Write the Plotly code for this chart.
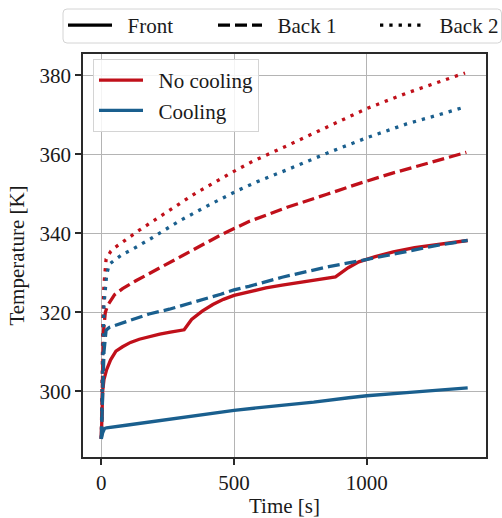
import plotly.graph_objects as go

# ---------------- data ----------------
# No cooling, Front
nc_front_t = [0, 2, 5, 10, 20, 35, 55, 80, 110, 143, 180, 220, 260, 312, 340, 380, 420, 460,
              500, 560, 620, 681, 750, 820, 882, 930, 970, 1032, 1100, 1180, 1260, 1380]
nc_front_y = [288, 295, 300, 303, 305.5, 308, 310.2, 311.3, 312.4, 313.2, 313.9, 314.5, 315, 315.6,
              318.2, 320.3, 322, 323.3, 324.3, 325.3, 326.2, 326.9, 327.6, 328.3, 329, 331.3, 332.8,
              334.1, 335.3, 336.4, 337.2, 338.2]
# No cooling, Back 1
nc_back1_t = [0, 4, 8, 15, 24, 50, 80, 130, 200, 256, 350, 450, 556, 700, 850, 970, 1100, 1250, 1375]
nc_back1_y = [288, 305, 315, 320, 321.8, 324.5, 326, 328, 330.5, 332.6, 336.0, 339.6, 343, 346.6,
              349.9, 352.6, 355.3, 358.1, 360.5]
# No cooling, Back 2
nc_back2_t = [0, 3, 6, 10, 18, 36, 49, 80, 143, 249, 356, 494, 569, 700, 850, 1000, 1150, 1270, 1370]
nc_back2_y = [288, 305, 318, 327, 333.5, 335.5, 336.3, 337.8, 340.8, 345.5, 350.2, 355.5, 358.2,
              362.2, 366.8, 371.6, 375.5, 378.3, 380.6]
# Cooling, Front
c_front_t = [0, 5, 12, 20, 100, 180, 300, 400, 500, 650, 800, 932, 1000, 1150, 1280, 1380]
c_front_y = [288, 289.5, 290.6, 290.8, 291.5, 292.2, 293.3, 294.2, 295.2, 296.3, 297.3, 298.4,
             298.9, 299.7, 300.3, 300.9]
# Cooling, Back 1
c_back1_t = [0, 5, 10, 18, 30, 100, 180, 256, 350, 450, 500, 556, 681, 857, 970, 1032, 1150, 1260, 1380]
c_back1_y = [288, 300, 310, 315.5, 316.2, 317.8, 319.6, 320.8, 322.6, 324.6, 325.7, 326.6, 328.9,
             331.6, 333, 333.8, 335.5, 336.9, 338.2]
# Cooling, Back 2
c_back2_t = [0, 3, 6, 10, 20, 30, 49, 80, 118, 187, 293, 406, 512, 588, 700, 850, 1000, 1150, 1270, 1370]
c_back2_y = [288, 302, 314, 322, 329.5, 332.2, 333.2, 334.7, 336, 338.7, 343.1, 347.2, 350.8, 353.1,
             356.1, 360.3, 364.2, 367.7, 370, 372]

x_ticks = [0, 500, 1000]
y_ticks = [300, 320, 340, 360, 380]
position_names = ["Front", "Back 1", "Back 2"]
case_names = ["No cooling", "Cooling"]

# ---------------- style ----------------
RED = "#c0101a"
BLUE = "#1a5f8e"
LW = 3.3
DASHES = {"Front": "solid", "Back 1": "12px,5px", "Back 2": "3.3px,6px"}
FONT = "Liberation Serif"
FS = 21
NB = "\u00a0"

# figure geometry (px)
W, H = 502, 518
ML, MR, MT, MB = 83, 16, 54, 61
PW, PH = W - ML - MR, H - MT - MB


def px_x(p):
    return (p - ML) / PW


def px_y(p):
    return (H - MB - p) / PH


fig = go.Figure()

series = [
    (nc_front_t, nc_front_y, RED, "Front"),
    (nc_back1_t, nc_back1_y, RED, "Back 1"),
    (nc_back2_t, nc_back2_y, RED, "Back 2"),
    (c_front_t, c_front_y, BLUE, "Front"),
    (c_back1_t, c_back1_y, BLUE, "Back 1"),
    (c_back2_t, c_back2_y, BLUE, "Back 2"),
]
for t, y, col, pos in series:
    fig.add_trace(go.Scatter(x=t, y=y, mode="lines", showlegend=False, hoverinfo="skip",
                             line=dict(color=col, width=LW, dash=DASHES[pos])))

# legend entries: line styles (top row, one legend per entry)
top_legends = ["legend", "legend3", "legend4"]
top_left_px = [63, 213, 375]
for pos, lg in zip(position_names, top_legends):
    fig.add_trace(go.Scatter(x=[None], y=[None], mode="lines", name=NB * 2 + pos, legend=lg,
                             line=dict(color="black", width=LW, dash=DASHES[pos])))
# legend entries: cases (inner legend)
for name, col in zip(case_names, [RED, BLUE]):
    fig.add_trace(go.Scatter(x=[None], y=[None], mode="lines", name=NB * 2 + name, legend="legend2",
                             line=dict(color=col, width=LW)))

axis_common = dict(
    showline=True, mirror=True, linecolor="#2a2a2a", linewidth=1.6,
    showgrid=True, gridcolor="#b4b4b4", gridwidth=1.2,
    ticks="outside", ticklen=6, tickwidth=1.5, tickcolor="#2a2a2a",
    tickfont=dict(family=FONT, size=FS, color="#1a1a1a"),
    zeroline=False, automargin=False,
)

legend_layout = {}
for lg, lp in zip(top_legends, top_left_px):
    legend_layout[lg] = dict(orientation="h", x=px_x(lp), xanchor="left", y=px_y(5), yanchor="top",
                             bgcolor="rgba(0,0,0,0)", borderwidth=0,
                             font=dict(family=FONT, size=FS), itemwidth=44)

# frame around the top legend row
x0, x1, y0, y1 = px_x(63), px_x(501.5), px_y(43), px_y(9)
r = 4 / PW
frame_path = (f"M {x0 + r},{y1} L {x1 - r},{y1} Q {x1},{y1} {x1},{y1 - r} "
              f"L {x1},{y0 + r} Q {x1},{y0} {x1 - r},{y0} L {x0 + r},{y0} "
              f"Q {x0},{y0} {x0},{y0 + r} L {x0},{y1 - r} Q {x0},{y1} {x0 + r},{y1} Z")

fig.update_layout(
    width=W, height=H,
    margin=dict(l=ML, r=MR, t=MT, b=MB, autoexpand=False),
    paper_bgcolor="white", plot_bgcolor="white",
    font=dict(family=FONT, size=FS, color="#1a1a1a"),
    xaxis=dict(range=[-69, 1449], tickvals=x_ticks,
               title=dict(text="Time [s]", font=dict(family=FONT, size=FS)),
               **axis_common),
    yaxis=dict(range=[283.4, 385.4], tickvals=y_ticks,
               title=dict(text="Temperature [K]", font=dict(family=FONT, size=FS), standoff=9),
               **axis_common),
    legend2=dict(orientation="v", x=px_x(93), xanchor="left", y=px_y(59), yanchor="top",
                 bgcolor="rgba(255,255,255,0.85)", bordercolor="#d4d4d4", borderwidth=1,
                 font=dict(family=FONT, size=FS), itemwidth=44, tracegroupgap=0),
    shapes=[dict(type="path", xref="paper", yref="paper", path=frame_path,
                 line=dict(color="#d4d4d4", width=1), fillcolor="rgba(0,0,0,0)", layer="above")],
    **legend_layout,
)

fig.write_html("out.html")
